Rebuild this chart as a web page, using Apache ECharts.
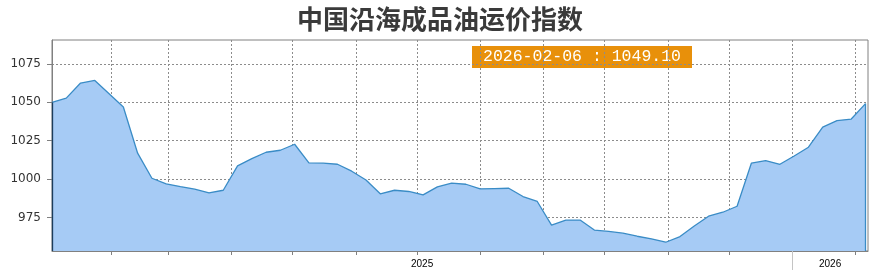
<!DOCTYPE html>
<html>
<head>
<meta charset="utf-8">
<script src="https://cdn.jsdelivr.net/npm/echarts@6/dist/echarts.min.js"></script>
<style>html,body{margin:0;padding:0;background:#fff}#c{width:880px;height:278px}</style>
</head>
<body>
<div id="c"></div>
<script>
const titleText = '中国沿海成品油运价指数';
const dates = [
 '2025-01-03','2025-01-10','2025-01-17','2025-01-24','2025-01-31',
 '2025-02-07','2025-02-14','2025-02-21','2025-02-28',
 '2025-03-07','2025-03-14','2025-03-21','2025-03-28',
 '2025-04-04','2025-04-11','2025-04-18','2025-04-25',
 '2025-05-02','2025-05-09','2025-05-16','2025-05-23','2025-05-30',
 '2025-06-06','2025-06-13','2025-06-20','2025-06-27',
 '2025-07-04','2025-07-11','2025-07-18','2025-07-25',
 '2025-08-01','2025-08-08','2025-08-15','2025-08-22','2025-08-29',
 '2025-09-05','2025-09-12','2025-09-19','2025-09-26',
 '2025-10-03','2025-10-10','2025-10-17','2025-10-24','2025-10-31',
 '2025-11-07','2025-11-14','2025-11-21','2025-11-28',
 '2025-12-05','2025-12-12','2025-12-19','2025-12-26',
 '2026-01-02','2026-01-09','2026-01-16','2026-01-23','2026-01-30',
 '2026-02-06'
];
const values = [
 1049.9,1052.7,1062.5,1064.2,1055.6,
 1046.9,1016.9,1000.6,997.0,
 995.2,993.5,991.1,992.8,
 1008.7,1013.4,1017.5,1018.8,
 1022.7,1010.6,1010.4,1009.7,1005.2,
 999.5,990.5,992.8,992.0,
 989.8,995.0,997.4,996.7,
 993.7,993.9,994.1,988.7,985.5,
 970.1,973.4,973.4,966.9,
 966.0,964.9,962.9,961.2,959.0,
 962.7,969.6,975.9,978.5,
 982.4,1010.4,1012.1,1009.7,
 1015.1,1020.8,1033.8,1038.1,1039.1,
 1049.10
];
const yTicks = [975, 1000, 1025, 1050, 1075];
const monthTicks = [
 '2025-02-01','2025-03-01','2025-04-01','2025-05-01','2025-06-01','2025-07-01',
 '2025-08-01','2025-09-01','2025-10-01','2025-11-01','2025-12-01','2026-01-01','2026-02-01'
];
const yearStarts = ['2025-01-01', '2026-01-01', '2027-01-01'];

const ts = d => Date.parse(d + 'T00:00:00Z');
const xMin = ts('2025-01-03');
const xMax = Date.parse('2026-02-07T05:00:00Z');
const yMin = 953.3, yMax = 1090.5;

const yearBounds = yearStarts.map(ts).filter(t => t > xMin && t < xMax);
const yearLabelPos = [];
for (let i = 0; i < yearStarts.length - 1; i++) {
  const a = Math.max(ts(yearStarts[i]), xMin);
  const b = Math.min(ts(yearStarts[i + 1]), xMax);
  if (b > a) yearLabelPos.push((a + b) / 2);
}
const monthTickTs = monthTicks.map(ts);
const dateTs = dates.map(ts);
const seriesData = dateTs.map((t, i) => [t, values[i]]);
const lastIdx = values.length - 1;
const boxText = dates[lastIdx] + ' : ' + values[lastIdx].toFixed(2);

const chart = echarts.init(document.getElementById('c'), null, {renderer: 'canvas'});
chart.setOption({
  animation: false,
  backgroundColor: '#fff',
  title: {
    text: titleText, left: 'center', top: 1,
    textStyle: {fontSize: 26, fontWeight: 'bold', color: '#3a3a3a', fontFamily: '"Noto Sans CJK SC", sans-serif'}
  },
  grid: {left: 52, top: 40, right: 12, bottom: 27, show: true, borderColor: '#808080', borderWidth: 1, backgroundColor: 'transparent'},
  xAxis: [{
    type: 'value', min: xMin, max: xMax,
    axisLine: {show: true, lineStyle: {color: '#808080', width: 1}},
    axisTick: {show: true, customValues: monthTickTs, length: 4, lineStyle: {color: '#808080'}},
    axisLabel: {show: false},
    splitLine: {show: true, lineStyle: {color: '#8c8c8c', type: [2, 2], width: 1}}
  }, {
    type: 'value', min: xMin, max: xMax, position: 'bottom',
    axisLine: {show: false},
    axisTick: {show: true, customValues: yearBounds, length: 19, lineStyle: {color: '#c4c4c4'}},
    axisLabel: {show: true, customValues: yearLabelPos, margin: 8, fontSize: 10, color: '#000', fontFamily: '"Liberation Sans", sans-serif',
      formatter: v => String(new Date(v).getUTCFullYear())},
    splitLine: {show: false}
  }],
  yAxis: {
    type: 'value', min: yMin, max: yMax,
    axisLine: {show: true, lineStyle: {color: '#808080'}},
    axisTick: {show: true, customValues: yTicks, length: 5, lineStyle: {color: '#808080'}},
    axisLabel: {show: true, customValues: yTicks, margin: 11, fontSize: 12, color: '#333', fontFamily: '"DejaVu Sans", sans-serif',
      formatter: v => String(v)},
    splitLine: {show: true, lineStyle: {color: '#8c8c8c', type: [2, 2], width: 1}}
  },
  series: [{
    type: 'line', xAxisIndex: 0, data: seriesData, symbol: 'none', smooth: false,
    lineStyle: {color: '#3a8cc6', width: 1.3},
    areaStyle: {color: '#a6cbf5', opacity: 1},
    markLine: {
      silent: true, symbol: 'none', label: {show: false},
      data: [
        [{coord: [dateTs[0], values[0]], lineStyle: {color: '#1b3d5c', width: 1.3, type: 'solid'}}, {coord: [dateTs[0], yMin]}],
        [{coord: [dateTs[lastIdx], values[lastIdx]], lineStyle: {color: '#3a8cc6', width: 1.3, type: 'solid'}}, {coord: [dateTs[lastIdx], yMin]}]
      ]
    }
  }],
  graphic: [{
    type: 'group', left: 472, top: 46,
    children: [
      {type: 'rect', shape: {x: 0, y: 0, width: 220, height: 22}, style: {fill: '#e8900a'}},
      {type: 'text', x: 110, y: 11, style: {text: boxText, fill: '#fff', font: '16.5px "Liberation Mono", monospace', align: 'center', verticalAlign: 'middle'}}
    ]
  }]
});
</script>
</body>
</html>
